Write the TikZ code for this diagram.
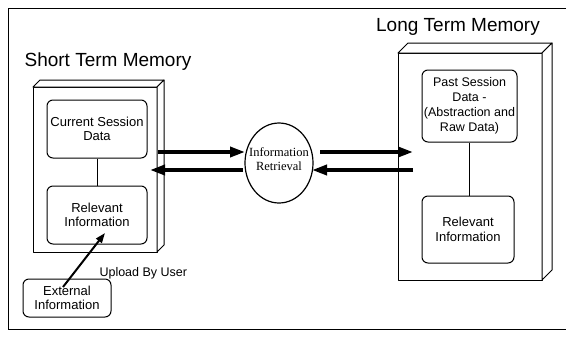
\documentclass[tikz,border=0pt]{standalone}
\usepackage{fontspec}
\setmainfont{Liberation Sans}
\newfontfamily\serifr{Liberation Serif}
\usetikzlibrary{arrows.meta,shapes.geometric}
\begin{document}
\begin{tikzpicture}[x=1pt,y=-1pt,
  frame/.style={line width=0.9pt},
  slab/.style={line width=1pt,fill=white,line join=round},
  membox/.style={draw,line width=1pt,rounded corners=6pt,align=center,inner sep=0pt,
    font=\fontsize{13}{14.5}\selectfont},
  fat/.style={line width=3.6pt,-{Triangle[length=15pt,width=10pt]}},
  thin/.style={line width=0.8pt},
  title/.style={font=\fontsize{19}{22}\selectfont},
  ]
\useasboundingbox (0,0) rectangle (570,338);
% outer frame (open on right)
\draw[frame] (566,8) -- (8,8) -- (8,329) -- (566,329);
% titles
\node[title] (stitle) at (108,62) {Short Term Memory};
\node[title] (ltitle) at (458,27) {Long Term Memory};
% short term slab
\draw[slab] (33,87) rectangle (157,252);
\draw[slab] (33,87) -- (40,80) -- (164,80) -- (157,87) -- cycle;
\draw[slab] (157,87) -- (164,80) -- (164,245) -- (157,252) -- cycle;
% long term slab
\draw[slab] (398,53) rectangle (542,280);
\draw[slab] (398,53) -- (408,43) -- (552,43) -- (542,53) -- cycle;
\draw[slab] (542,53) -- (552,43) -- (552,270) -- (542,280) -- cycle;
% boxes
\node[membox,minimum width=100pt,minimum height=58pt] (cur) at (97,129) {Current Session\\Data};
\node[membox,minimum width=100pt,minimum height=58pt] (rell) at (97,215) {Relevant\\Information};
\node[membox,minimum width=88pt,minimum height=38pt] (ext) at (67,298) {External\\Information};
\node[membox,minimum width=95pt,minimum height=72pt,font=\fontsize{12.5}{15}\selectfont] (past) at (469.5,106) {Past Session\\Data -\\(Abstraction and\\Raw Data)};
\node[membox,minimum width=92pt,minimum height=67pt] (relr) at (468,229.5) {Relevant\\Information};
\draw[thin] (cur.south) -- (rell.north);
\draw[thin] (past.south) -- (past.south |- relr.north);
% ellipse
\node[draw,ellipse,line width=1.2pt,minimum width=68pt,minimum height=80pt,inner sep=0pt] (ir) at (279,163) {};
\node[align=center,inner sep=0pt,font=\serifr\fontsize{12.5}{14}\selectfont] (irtext) at (279,159) {Information\\Retrieval};
% arrow endpoints
\coordinate (s1) at (158,152);
\coordinate (e1) at (245,152);
\coordinate (s2) at (243,170);
\coordinate (e2) at (150,170);
\coordinate (s3) at (320,152);
\coordinate (e3) at (413,152);
\coordinate (s4) at (413,170);
\coordinate (e4) at (312,170);
\draw[fat] (s1) -- (e1);
\draw[fat] (s2) -- (e2);
\draw[fat] (s3) -- (e3);
\draw[fat] (s4) -- (e4);
% upload arrow
\coordinate (u1) at (63,287);
\coordinate (u2) at (105,233);
\draw[line width=2pt,-{Triangle[length=10pt,width=7pt]}] (u1) -- (u2);
\node[font=\fontsize{12.5}{14}\selectfont,anchor=west] (up) at (96,273) {Upload By User};
\end{tikzpicture}
\end{document}
